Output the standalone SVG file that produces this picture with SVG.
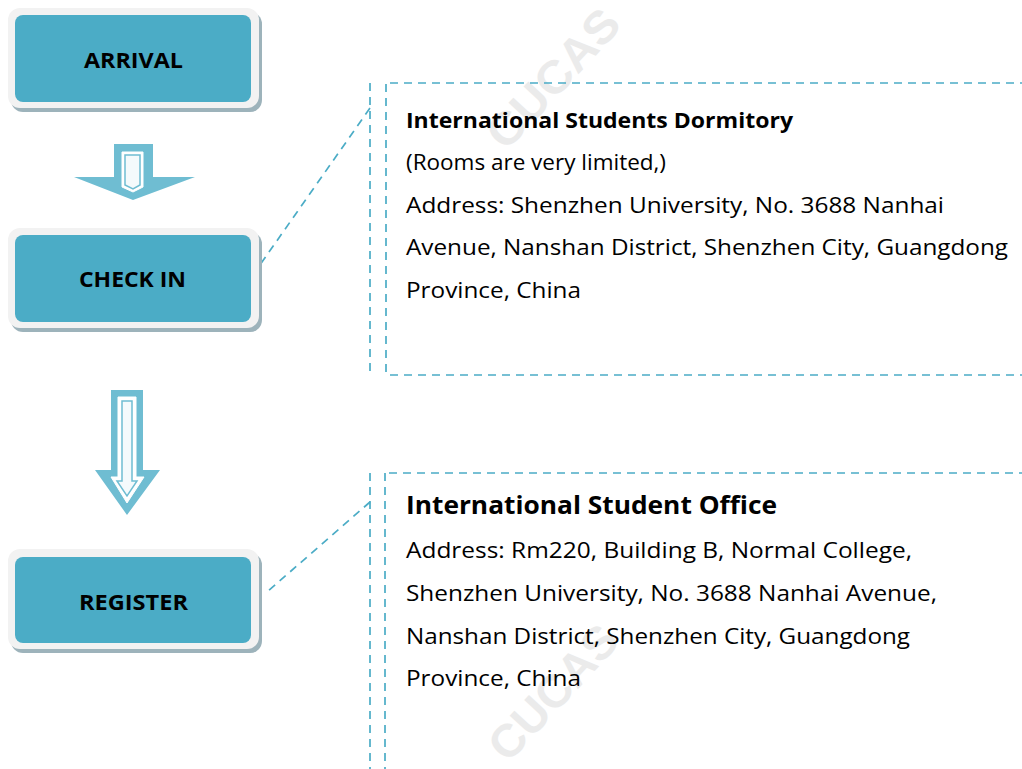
<svg xmlns="http://www.w3.org/2000/svg" width="1022" height="769" viewBox="0 0 1022 769">
<defs>
<style>
.shadow{fill:#9db3bb}
.outer{fill:#f2f2f2}
.inner{fill:#4bacc6}
.lbl{font-family:"Open Sans","Liberation Sans",sans-serif;font-weight:bold;font-size:22px;fill:#000}
.dash{fill:none;stroke:#4bacc6;stroke-width:1.7;stroke-dasharray:8 6}
.arr{fill:#6fbdd2}
.arrw{fill:#ffffff;stroke:#ffffff;stroke-width:1}
.arri{fill:#f4fafc;stroke:#6fbdd2;stroke-width:1.5}
.t{font-family:"Open Sans","Liberation Sans",sans-serif;font-size:21px;fill:#000}
.tb{font-weight:bold}
.wm{font-family:"Liberation Sans",sans-serif;font-weight:bold;font-size:46px;fill:#ebebeb}
</style>
</defs>
<rect width="1022" height="769" fill="#ffffff"/>
<g id="watermarks">
<text class="wm" transform="translate(506,152) rotate(-47)" textLength="172" lengthAdjust="spacingAndGlyphs">CUCAS</text>
<text class="wm" transform="translate(508,764) rotate(-47)" textLength="166" lengthAdjust="spacingAndGlyphs">CUCAS</text>
</g>
<g id="connectors">
<path class="dash" d="M370,83 V372"/>
<path class="dash" d="M386,84 V375"/>
<path class="dash" d="M390,83 H1022"/>
<path class="dash" d="M390,375 H1022"/>
<path class="dash" d="M370,108 L255,272"/>
<path class="dash" d="M370,473 V769"/>
<path class="dash" d="M385,473 V769"/>
<path class="dash" d="M389,473 H1022"/>
<path class="dash" d="M370,502 L267,592"/>
</g>
<g id="arrow1">
<polygon class="arr" points="114,144 153,144 153,177 195,177 133,200 74,177 114,177"/>
<polygon class="arrw" points="122,152 143,152 143,187 133,192 122,187"/>
<polygon class="arri" points="125,155 140,155 140,185 133,189 125,185"/>
</g>
<g id="arrow2">
<polygon class="arr" points="111,390 143,390 143,470 160,470 127,515 95,470 111,470"/>
<polygon class="arrw" points="118,397 136,397 136,477 144,477 127,503 111,477 118,477"/>
<polygon class="arri" points="122,401 132,401 132,481 137,481 127,496 117,481 122,481"/>
</g>
<g id="arrival">
<rect class="shadow" x="11" y="12" width="251" height="100" rx="12"/>
<rect class="outer" x="8" y="8" width="251" height="100" rx="12"/>
<rect class="inner" x="15" y="15" width="236" height="87" rx="8"/>
<text class="lbl" x="84" y="68" textLength="99" lengthAdjust="spacingAndGlyphs">ARRIVAL</text>
</g>
<g id="checkin">
<rect class="shadow" x="11" y="232" width="251" height="100" rx="12"/>
<rect class="outer" x="8" y="228" width="251" height="100" rx="12"/>
<rect class="inner" x="15" y="235" width="236" height="87" rx="8"/>
<text class="lbl" x="79" y="287" textLength="107" lengthAdjust="spacingAndGlyphs">CHECK IN</text>
</g>
<g id="register">
<rect class="shadow" x="11" y="553" width="251" height="100" rx="12"/>
<rect class="outer" x="8" y="549" width="251" height="100" rx="12"/>
<rect class="inner" x="15" y="557" width="236" height="86" rx="8"/>
<text class="lbl" x="79" y="610" textLength="109" lengthAdjust="spacingAndGlyphs">REGISTER</text>
</g>
<g id="dormitory">
<text class="t tb" x="406" y="128" textLength="387" lengthAdjust="spacingAndGlyphs">International Students Dormitory</text>
<text class="t" x="406" y="170" textLength="260" lengthAdjust="spacingAndGlyphs">(Rooms are very limited,)</text>
<text class="t" x="406" y="213" textLength="538" lengthAdjust="spacingAndGlyphs">Address: Shenzhen University, No. 3688 Nanhai</text>
<text class="t" x="406" y="255" textLength="602" lengthAdjust="spacingAndGlyphs">Avenue, Nanshan District, Shenzhen City, Guangdong</text>
<text class="t" x="406" y="298" textLength="175" lengthAdjust="spacingAndGlyphs">Province, China</text>
</g>
<g id="office">
<text class="t tb" x="406" y="514" style="font-size:25px" textLength="371" lengthAdjust="spacingAndGlyphs">International Student Office</text>
<text class="t" x="406" y="558" textLength="506" lengthAdjust="spacingAndGlyphs">Address: Rm220, Building B, Normal College,</text>
<text class="t" x="406" y="601" textLength="531" lengthAdjust="spacingAndGlyphs">Shenzhen University, No. 3688 Nanhai Avenue,</text>
<text class="t" x="406" y="644" textLength="504" lengthAdjust="spacingAndGlyphs">Nanshan District, Shenzhen City, Guangdong</text>
<text class="t" x="406" y="686" textLength="175" lengthAdjust="spacingAndGlyphs">Province, China</text>
</g>
</svg>
